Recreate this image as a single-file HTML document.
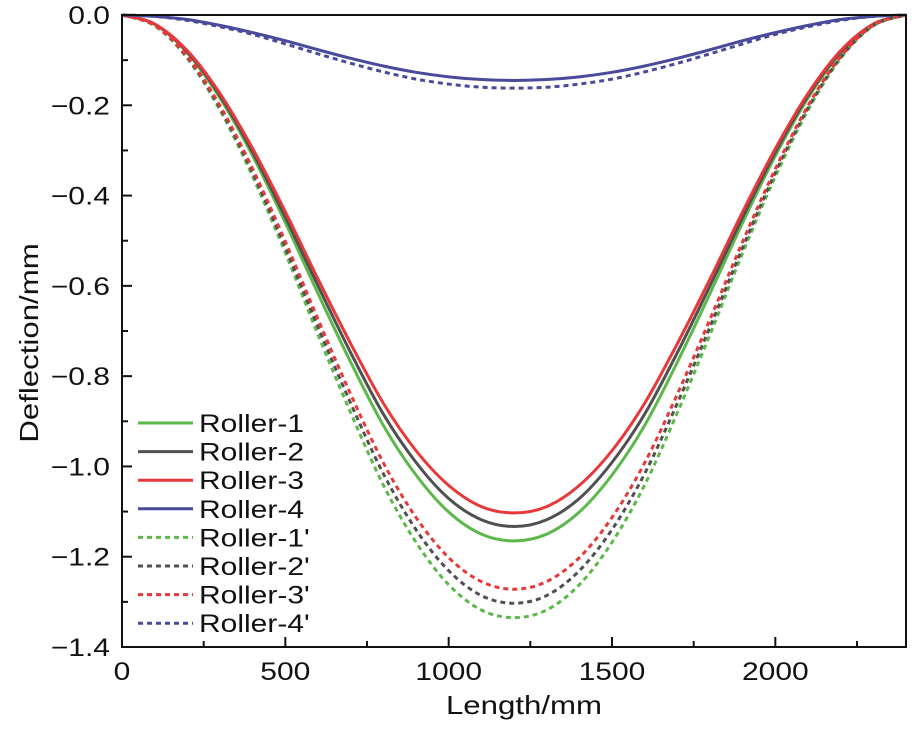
<!DOCTYPE html>
<html><head><meta charset="utf-8"><style>
body{margin:0;background:#fff}
svg{display:block;font-family:"Liberation Sans",Arial,sans-serif}
</style></head><body>
<svg id="chart" width="916" height="731"></svg>
<script>
const xs=[0,100,200,300,400,500,600,700,800,900,1000,1100,1200,1300,1400,1500,1600,1700,1800,1900,2000,2100,2200,2300,2400];
const r1=[0,-.021,-.084,-.184,-.312,-.460,-.617,-.769,-.909,-1.019,-1.101,-1.150,-1.165,-1.150,-1.101,-1.019,-.909,-.769,-.617,-.460,-.312,-.184,-.084,-.021,0];
const r2=[0,-.020,-.082,-.179,-.304,-.448,-.600,-.748,-.884,-.991,-1.071,-1.118,-1.133,-1.118,-1.071,-.991,-.884,-.748,-.600,-.448,-.304,-.179,-.082,-.020,0];
const r3=[0,-.020,-.079,-.174,-.296,-.436,-.585,-.728,-.860,-.965,-1.042,-1.089,-1.103,-1.089,-1.042,-.965,-.860,-.728,-.585,-.436,-.296,-.174,-.079,-.020,0];
const r4=[0,-.003,-.010,-.023,-.039,-.057,-.077,-.096,-.113,-.127,-.137,-.143,-.145,-.143,-.137,-.127,-.113,-.096,-.077,-.057,-.039,-.023,-.010,-.003,0];
const r1p=[0,-.024,-.096,-.211,-.358,-.527,-.708,-.881,-1.041,-1.168,-1.262,-1.318,-1.335,-1.318,-1.262,-1.168,-1.041,-.881,-.708,-.527,-.358,-.211,-.096,-.024,0];
const r2p=[0,-.023,-.094,-.206,-.349,-.515,-.691,-.860,-1.016,-1.140,-1.231,-1.286,-1.303,-1.286,-1.231,-1.140,-1.016,-.860,-.691,-.515,-.349,-.206,-.094,-.023,0];
const r3p=[0,-.023,-.092,-.201,-.341,-.502,-.674,-.840,-.992,-1.113,-1.202,-1.255,-1.272,-1.255,-1.202,-1.113,-.992,-.840,-.674,-.502,-.341,-.201,-.092,-.023,0];
const r4p=[0,-.003,-.012,-.026,-.043,-.064,-.086,-.107,-.126,-.142,-.153,-.160,-.162,-.160,-.153,-.142,-.126,-.107,-.086,-.064,-.043,-.026,-.012,-.003,0];
const seriesNames=["Roller-1","Roller-2","Roller-3","Roller-4","Roller-1'","Roller-2'","Roller-3'","Roller-4'"];
const xTicks=[0,500,1000,1500,2000];
const yTicks=[0,-0.2,-0.4,-0.6,-0.8,-1.0,-1.2,-1.4];
const yTickLabels=["0.0","\u22120.2","\u22120.4","\u22120.6","\u22120.8","\u22121.0","\u22121.2","\u22121.4"];

const L=122,R=906,T=15,B=647,XMAX=2400,YMIN=-1.4;
const sx=v=>L+(v/XMAX)*(R-L);
const sy=v=>T+(v/YMIN)*(B-T);
const NS="http://www.w3.org/2000/svg";
const svg=document.getElementById('chart');
function mk(tag,attrs,parent){const e=document.createElementNS(NS,tag);for(const k in attrs)e.setAttribute(k,attrs[k]);(parent||svg).appendChild(e);return e;}
function stretch(t,f){const w=t.getComputedTextLength();t.setAttribute('textLength',w*f);t.setAttribute('lengthAdjust','spacingAndGlyphs');}
function pathFor(ys){
  const p=xs.map((x,i)=>[sx(x),sy(ys[i])]);
  let d=`M${p[0][0]},${p[0][1]}`;
  for(let i=0;i<p.length-1;i++){
    const p0=p[Math.max(i-1,0)],p1=p[i],p2=p[i+1],p3=p[Math.min(i+2,p.length-1)];
    const c1=[p1[0]+(p2[0]-p0[0])/6,p1[1]+(p2[1]-p0[1])/6];
    const c2=[p2[0]-(p3[0]-p1[0])/6,p2[1]-(p3[1]-p1[1])/6];
    d+=`C${c1[0]},${c1[1]} ${c2[0]},${c2[1]} ${p2[0]},${p2[1]}`;
  }
  return d;
}
const series=[[r1,"#5cb84a",false],[r2,"#505050",false],[r3,"#e8383a",false],[r4,"#4a4a9c",false],
[r1p,"#5cb84a",true],[r2p,"#505050",true],[r3p,"#e8383a",true],[r4p,"#4a4a9c",true]];
const slugs=["roller-1","roller-2","roller-3","roller-4","roller-1-prime","roller-2-prime","roller-3-prime","roller-4-prime"];
series.forEach((s,i)=>{
  const el=mk('path',{d:pathFor(s[0]),fill:'none',stroke:s[1],'stroke-width':3,'stroke-dasharray':s[2]?'5,4':'none'});
  
  
});
const fr=mk('rect',{x:L,y:T,width:R-L,height:B-T,fill:'none',stroke:'#111','stroke-width':2});


for(let v=0;v<=XMAX;v+=250){
  const major=v%500===0;
  mk('line',{x1:sx(v),x2:sx(v),y1:B,y2:B-(major?10:6),stroke:'#111','stroke-width':2});
}
xTicks.forEach(v=>{
  const t=mk('text',{x:sx(v),y:680,'text-anchor':'middle','font-size':25,fill:'#111'});t.textContent=v;
  
  
  stretch(t,1.2);
});
for(let k=0;k<=14;k++){
  const v=-k/10;const major=k%2===0;
  mk('line',{x1:L,x2:L+(major?10:6),y1:sy(v),y2:sy(v),stroke:'#111','stroke-width':2});
}
yTicks.forEach((v,i)=>{
  const t=mk('text',{x:110,y:sy(v)+9,'text-anchor':'end','font-size':25,fill:'#111'});t.textContent=yTickLabels[i];
  
  
  stretch(t,1.2);
});
const xt=mk('text',{x:(L+R)/2+10,y:714,'text-anchor':'middle','font-size':26,fill:'#111'});xt.textContent='Length/mm';


stretch(xt,1.2);
const yt=mk('text',{x:0,y:0,'text-anchor':'middle','font-size':26,fill:'#111',transform:`translate(38,${(T+B)/2+12}) rotate(-90)`});yt.textContent='Deflection/mm';


stretch(yt,1.2);
seriesNames.forEach((n,i)=>{
  const y=423+i*28.6;
  const g=mk('g',{});
  
  
  mk('line',{x1:138,x2:193,y1:y,y2:y,stroke:series[i][1],'stroke-width':3,'stroke-dasharray':series[i][2]?'5,4':'none'},g);
  const t=mk('text',{x:199,y:y+9,'font-size':25,fill:'#111'},g);t.textContent=n;
  stretch(t,1.2);
});
</script>
</body></html>
